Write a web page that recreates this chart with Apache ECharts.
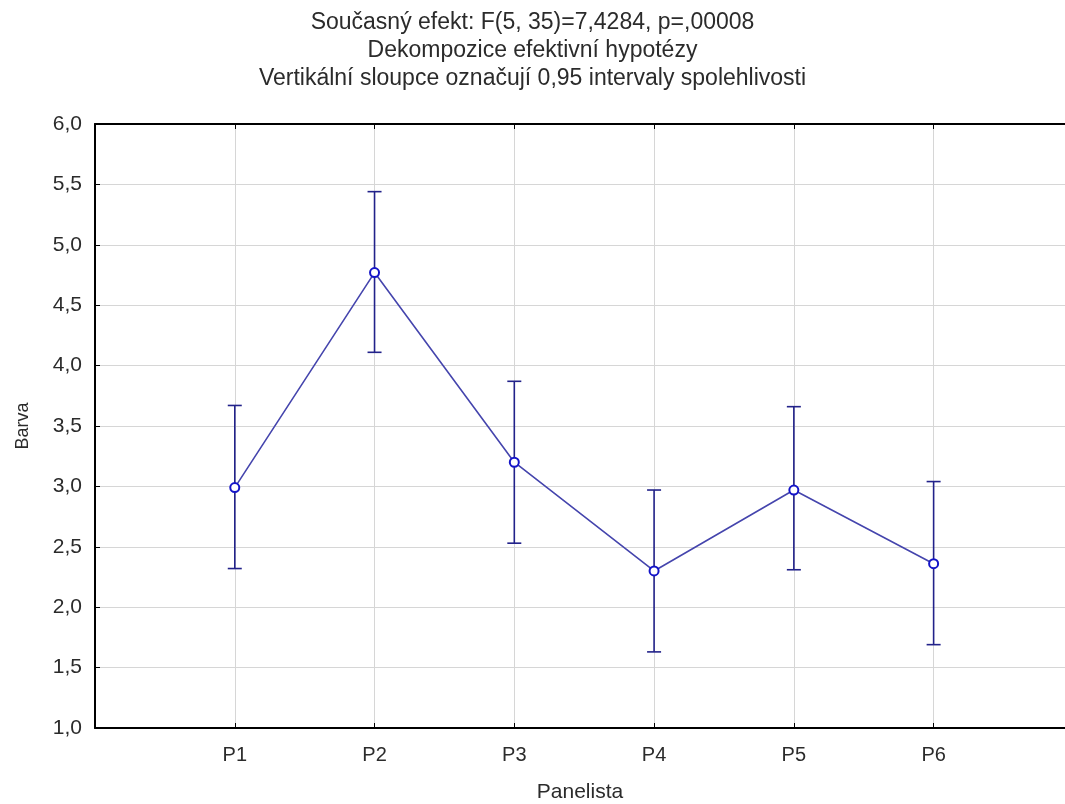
<!DOCTYPE html>
<html>
<head>
<meta charset="utf-8">
<script src="https://cdn.jsdelivr.net/npm/echarts@6/dist/echarts.min.js"></script>
<style>
  html, body { margin: 0; padding: 0; background: #fff; }
  #chart { width: 1065px; height: 804px; }
</style>
</head>
<body>
<div id="chart"></div>
<script>
// Panelists on the x axis
const categories = ['P1', 'P2', 'P3', 'P4', 'P5', 'P6'];
// Mean "Barva" score per panelist
const means = [2.99, 4.77, 3.20, 2.30, 2.97, 2.36];
// 0.95 confidence interval bounds
const lower = [2.32, 4.11, 2.53, 1.63, 2.31, 1.69];
const upper = [3.67, 5.44, 3.87, 2.97, 3.66, 3.04];
// Y tick range
const yMin = 1.0, yMax = 6.0, yStep = 0.5;
// Visible x range (panelist slots, the last one runs past the right edge)
const xMin = 0, xMax = 6.94;

const titleLines = [
  'Současný efekt: F(5, 35)=7,4284, p=,00008',
  'Dekompozice efektivní hypotézy',
  'Vertikální sloupce označují 0,95 intervaly spolehlivosti'
];

const FONT = 'Liberation Sans, Arial, sans-serif';
const TEXT = '#2b2b2b';

const pointData = means.map((m, i) => [i + 1, m]);
const barData = means.map((m, i) => [i + 1, lower[i], upper[i]]);

const chart = echarts.init(document.getElementById('chart'), null, { renderer: 'canvas' });

const labelFor = v => (Number.isInteger(v) && categories[v - 1]) || '';

chart.setOption({
  backgroundColor: '#ffffff',
  animation: false,
  textStyle: { fontFamily: FONT },
  title: {
    text: titleLines.join('\n'),
    left: 'center',
    top: 4,
    textStyle: { fontFamily: FONT, fontSize: 23, fontWeight: 'normal', color: TEXT, lineHeight: 28 }
  },
  grid: { left: 95, top: 124, right: 0, height: 604, containLabel: false, outerBoundsMode: 'none' },
  xAxis: [
    {
      type: 'value', min: xMin, max: xMax, interval: 1,
      position: 'bottom',
      name: 'Panelista', nameLocation: 'middle', nameGap: 54,
      nameTextStyle: { fontFamily: FONT, fontSize: 21, color: TEXT },
      axisLine: { show: true, lineStyle: { color: '#000', width: 2 } },
      axisTick: { show: true, inside: true, length: 5, lineStyle: { color: '#000' } },
      axisLabel: {
        margin: 17, fontFamily: FONT, fontSize: 20, color: TEXT,
        showMaxLabel: false, formatter: labelFor
      },
      splitLine: { show: true, lineStyle: { color: '#d6d6d6', width: 1 } }
    },
    {
      type: 'value', min: xMin, max: xMax, interval: 1,
      position: 'top',
      axisLine: { show: true, lineStyle: { color: '#000', width: 2 } },
      axisTick: { show: true, inside: true, length: 5, lineStyle: { color: '#000' } },
      axisLabel: { show: false },
      splitLine: { show: false }
    }
  ],
  yAxis: {
    type: 'value', min: yMin, max: yMax, interval: yStep,
    name: 'Barva', nameLocation: 'middle', nameGap: 63, nameRotate: 90,
    nameTextStyle: { fontFamily: FONT, fontSize: 18, color: TEXT },
    axisLine: { show: true, lineStyle: { color: '#000', width: 2 } },
    axisTick: { show: true, inside: true, length: 5, lineStyle: { color: '#000' } },
    axisLabel: {
      margin: 13, fontFamily: FONT, fontSize: 21, color: TEXT,
      formatter: v => v.toFixed(1).replace('.', ',')
    },
    splitLine: { show: true, lineStyle: { color: '#d6d6d6', width: 1 } }
  },
  series: [
    {
      // confidence interval whiskers
      type: 'custom',
      xAxisIndex: 0,
      z: 2,
      data: barData,
      renderItem: (params, api) => {
        const x = api.value(0);
        const lo = api.coord([x, api.value(1)]);
        const hi = api.coord([x, api.value(2)]);
        const cap = 7;
        const style = { stroke: '#22228a', lineWidth: 1.6 };
        return {
          type: 'group',
          children: [
            { type: 'line', shape: { x1: lo[0], y1: lo[1], x2: hi[0], y2: hi[1] }, style },
            { type: 'line', shape: { x1: hi[0] - cap, y1: hi[1], x2: hi[0] + cap, y2: hi[1] }, style },
            { type: 'line', shape: { x1: lo[0] - cap, y1: lo[1], x2: lo[0] + cap, y2: lo[1] }, style }
          ]
        };
      }
    },
    {
      type: 'line',
      xAxisIndex: 0,
      z: 3,
      data: pointData,
      symbol: 'emptyCircle',
      symbolSize: 9,
      lineStyle: { color: '#4545ad', width: 1.6 },
      itemStyle: { color: '#1414c8', borderColor: '#1414c8', borderWidth: 2 }
    }
  ]
});
</script>
</body>
</html>
